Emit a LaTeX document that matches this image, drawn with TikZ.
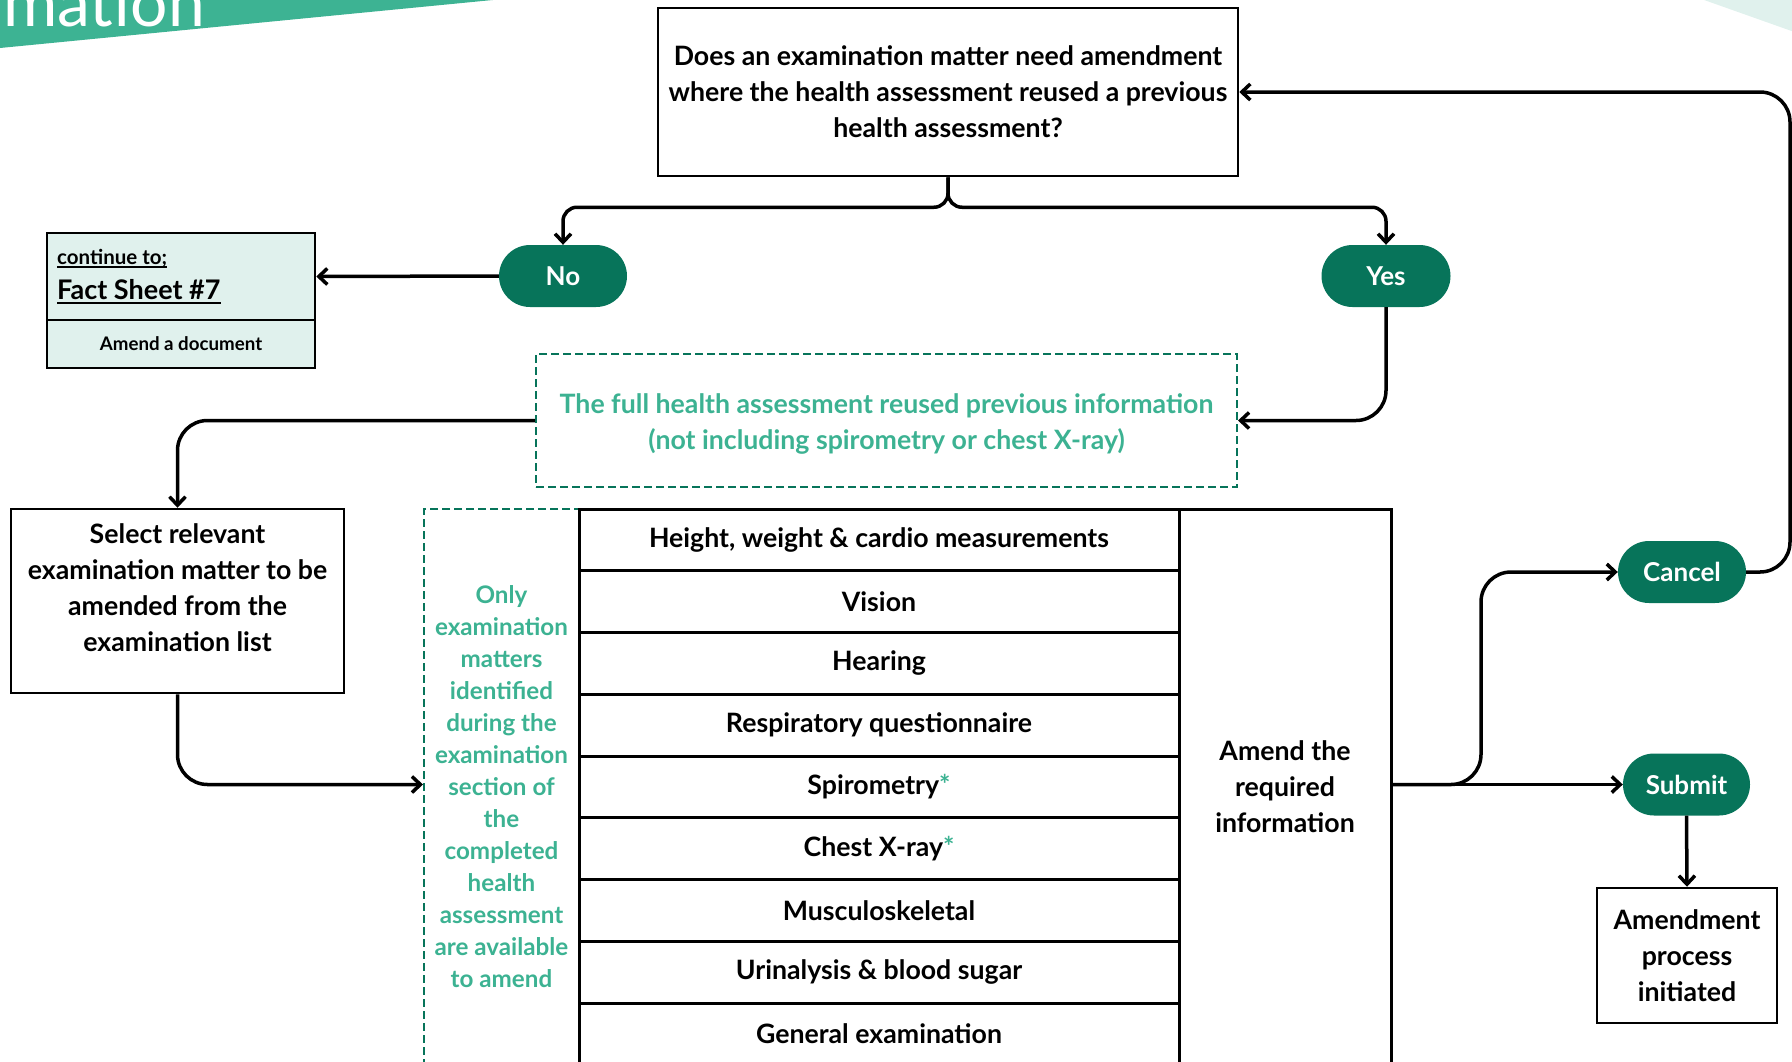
\documentclass[tikz,border=0pt]{standalone}
\usepackage{fontspec}
\setmainfont{Lato}
\usetikzlibrary{arrows.meta,calc}
\definecolor{dgreen}{RGB}{7,116,90}
\definecolor{tgreen}{RGB}{60,178,146}
\definecolor{lfill}{RGB}{224,241,237}
\definecolor{banner}{RGB}{61,179,147}
\begin{document}
\begin{tikzpicture}[x=1pt,y=-1pt,
 box/.style={draw=black,line width=2.5pt,align=center,inner sep=0pt},
 pill/.style={fill=dgreen,text=white,rounded corners=31pt,minimum height=62pt,inner sep=0pt,font=\fontsize{26}{30}\selectfont\bfseries},
 conn/.style={line width=3.5pt,-{Straight Barb[length=8.5pt,width=16pt]}},
 gdash/.style={draw=dgreen,line width=2pt,dash pattern=on 8pt off 4pt},
 rowbox/.style={draw=black,line width=3pt,minimum width=600pt,minimum height=61.75pt,inner sep=0pt,font=\fontsize{26.7}{30}\selectfont\bfseries},
 txt/.style={font=\fontsize{26.7}{36}\selectfont\bfseries,align=center,inner sep=0pt}
]
\useasboundingbox (0,0) rectangle (1792,1061);
% decorative banners
\fill[banner] (0,-20) -- (698,-20) -- (0,48) -- cycle;
\node[anchor=base east,text=white,font=\fontsize{66}{66}\selectfont,inner sep=0pt] (title) at (205,26) {Information};
\fill[lfill] (1690,-5) -- (1800,-5) -- (1800,34) -- cycle;

% question
\node[box,minimum width=580pt,minimum height=168pt] (q) at (948,92) {};
\node[txt] (qt) at (q.center) {Does an examination matter need amendment\\where the health assessment reused a previous\\health assessment?};

% pills
\node[pill,minimum width=128pt] (no) at (563,276) {No};
\node[pill,minimum width=129pt] (yes) at (1386,276) {Yes};
\node[pill,minimum width=128pt] (cancel) at (1682,572) {Cancel};
\node[pill,minimum width=127pt] (submit) at (1686.5,784.5) {Submit};

% fact sheet
\node[draw=black,fill=lfill,line width=2.5pt,minimum width=268pt,minimum height=87pt,inner sep=0pt] (fstop) at (181,276.5) {};
\node[draw=black,fill=lfill,line width=2.5pt,minimum width=268pt,minimum height=48pt,inner sep=0pt,font=\fontsize{18.7}{20}\selectfont\bfseries] (fsbot) at (181,344) {Amend a document};
\node[anchor=base west,inner sep=0pt,font=\fontsize{20.5}{22}\selectfont\bfseries] (fs1) at (57,264) {continue to;};
\node[anchor=base west,inner sep=0pt,font=\fontsize{27}{30}\selectfont\bfseries] (fs2) at (57,299) {Fact Sheet \#7};
\draw[line width=1.6pt] ([yshift=-3pt]fs1.base west) -- ([yshift=-3pt]fs1.base east);
\draw[line width=2pt] ([yshift=-4pt]fs2.base west) -- ([yshift=-4pt]fs2.base east);

% info green box
\node[gdash,minimum width=701pt,minimum height=133pt,inner sep=0pt] (info) at (886.5,420.5) {};
\node[txt,text=tgreen,font=\fontsize{26.7}{36}\selectfont\bfseries] (infot) at (886.5,424) {The full health assessment reused previous information\\(not including spirometry or chest X-ray)};

% select box
\node[box,minimum width=333pt,minimum height=184pt] (sel) at (177.5,601) {};
\node[txt] (selt) at (177.5,588) {Select relevant\\examination matter to be\\amended from the\\examination list};

% dashed column
\node[gdash,minimum width=155pt,minimum height=580pt,inner sep=0pt] (col) at (501.5,799) {};
\node[txt,text=tgreen,font=\fontsize{24.2}{32}\selectfont\bfseries] (colt) at (501.5,787) {Only\\examination\\matters\\identified\\during the\\examination\\section of\\the\\completed\\health\\assessment\\are available\\to amend};

% table rows
\foreach \i/\t in {1/{Height, weight \& cardio measurements},2/{Vision},3/{Hearing},4/{Respiratory questionnaire},5/{Spirometry\textcolor{tgreen}{*}},6/{Chest X-ray\textcolor{tgreen}{*}},7/{Musculoskeletal},8/{Urinalysis \& blood sugar},9/{General examination}}{
  \node[rowbox] (r\i) at (879,{509+61.75*(\i-0.5)}) {\t};
}
\node[draw=black,line width=3pt,minimum width=212pt,minimum height=580pt,inner sep=0pt] (amendcol) at (1285,799) {};
\node[txt] (amend) at (1285,787) {Amend the\\required\\information};

% amendment box
\node[box,minimum width=180pt,minimum height=135pt] (amb) at (1687,955.5) {};
\node[txt] (ambt) at (amb.center) {Amendment\\process\\initiated};

% connectors
\draw[conn,rounded corners=14pt] (q.south) -- ++(0,30) -| (no.north);
\draw[conn,rounded corners=14pt] (q.south) -- ++(0,30) -| (yes.north);
\draw[conn] (no.west) -- (fstop.east);
\draw[conn,rounded corners=30pt] (yes.south) |- (info.east);
\draw[conn,rounded corners=30pt] (info.west) -| (sel.north);
\draw[conn,rounded corners=30pt] (sel.south) |- (col.west |- submit.west);
\draw[conn] (amendcol.east |- submit.west) -- (submit.west);
\coordinate (split) at (1481,784.5);
\draw[conn,rounded corners=30pt] (amendcol.east |- submit.west) -- (split) |- (cancel.west);
\coordinate (rightedge) at (1790,572);
\draw[conn,rounded corners=30pt] (cancel.east) -- (rightedge) |- (q.east);
\draw[conn] (submit.south) -- (amb.north);
\end{tikzpicture}
\end{document}
